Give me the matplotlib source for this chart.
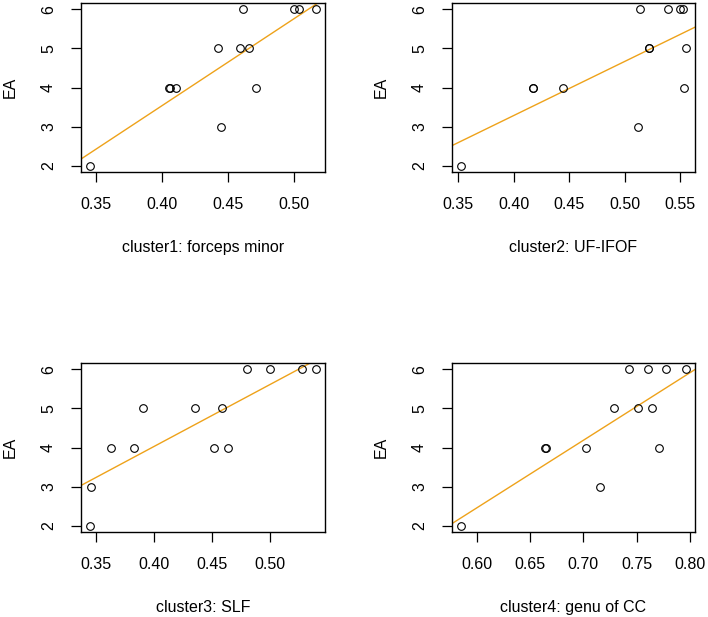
import numpy as np
import matplotlib
matplotlib.use("Agg")
import matplotlib.pyplot as plt

plt.rcParams['font.family'] = ['Liberation Sans', 'DejaVu Sans']

ea = [2, 3, 4, 4, 4, 4, 5, 5, 5, 6, 6, 6, 6]

c1 = [0.3454, 0.4447, 0.4050, 0.4058, 0.4103, 0.4714,
      0.4426, 0.4594, 0.4660, 0.4614, 0.5006, 0.5037, 0.5169]
c2 = [0.3524, 0.5115, 0.4172, 0.4176, 0.4447, 0.5536,
      0.5218, 0.5222, 0.5551, 0.5136, 0.5386, 0.5497, 0.5527]
c3 = [0.3448, 0.3457, 0.3627, 0.3823, 0.4518, 0.4640,
      0.3907, 0.4351, 0.4582, 0.4798, 0.4997, 0.5271, 0.5393]
c4 = [0.5849, 0.7154, 0.6640, 0.6650, 0.7022, 0.7714,
      0.7292, 0.7509, 0.7648, 0.7425, 0.7607, 0.7774, 0.7965]

clusters = [c1, c2, c3, c4]
labels = ['cluster1: forceps minor', 'cluster2: UF-IFOF',
          'cluster3: SLF', 'cluster4: genu of CC']
xticks = [[0.35, 0.40, 0.45, 0.50],
          [0.35, 0.40, 0.45, 0.50, 0.55],
          [0.35, 0.40, 0.45, 0.50],
          [0.60, 0.65, 0.70, 0.75, 0.80]]

W, H = 708, 617
fig = plt.figure(figsize=(W / 100, H / 100), dpi=100)

# axes boxes in pixels: left, top, right, bottom
boxes = [(81, 3, 325, 172), (452, 3, 695, 172),
         (81, 363, 325, 532), (452, 363, 695, 532)]

fs = 11.5
for x, lab, ticks, (l, t, r, b) in zip(clusters, labels, xticks, boxes):
    ax = fig.add_axes([l / W, 1 - b / H, (r - l) / W, (b - t) / H])
    x = np.array(x)
    y = np.array(ea)
    ax.plot(x, y, 'o', mfc='none', mec='black', ms=5.5, mew=0.8, zorder=3)
    xr = x.max() - x.min()
    xlim = (x.min() - 0.04 * xr, x.max() + 0.04 * xr)
    ax.set_xlim(xlim)
    ax.set_ylim(2 - 0.16, 6 + 0.16)
    # least squares line (abline of lm)
    k, c = np.polyfit(x, y, 1)
    xs = np.array(xlim)
    ax.plot(xs, k * xs + c, color='#EEA21A', lw=1.0, zorder=2)

    ax.set_xticks(ticks)
    ax.set_xticklabels(['%.2f' % v for v in ticks])
    ax.set_yticks([2, 3, 4, 5, 6])
    ax.set_yticklabels(['2', '3', '4', '5', '6'], rotation=90, va='center')
    ax.tick_params(direction='out', length=7, width=0.9, labelsize=fs,
                   pad=11, colors='black')
    for s in ax.spines.values():
        s.set_linewidth(1.0)
    ax.set_xlabel(lab, fontsize=fs, labelpad=20)
    ax.set_ylabel('EA', fontsize=fs, labelpad=17)

fig.savefig('out.png', dpi=100)
